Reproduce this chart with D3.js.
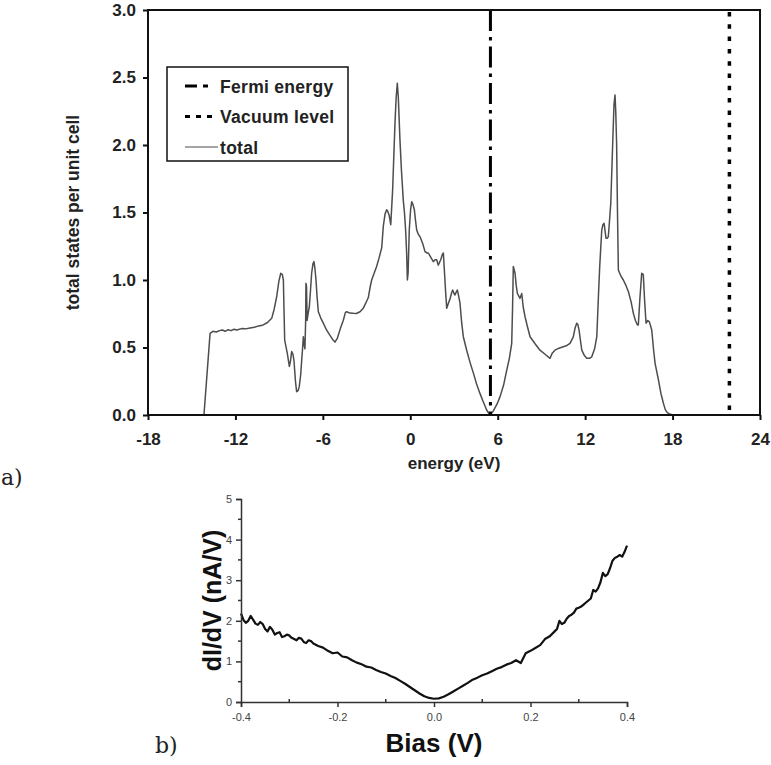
<!DOCTYPE html>
<html>
<head>
<meta charset="utf-8">
<script src="https://cdn.jsdelivr.net/npm/d3@7"></script>
<style>
  body { margin: 0; background: #fff; }
  svg { display: block; }
</style>
</head>
<body>
<div class="chart"></div>
<script>
// a) density of states
var energy = [-14.16,-13.74,-13.55,-13.3,-13.1,-12.9,-12.7,-12.5,-12.3,-12.1,-11.9,-11.6,-11.3,-11.0,-10.7,-10.4,-10.09,-9.8,-9.51,-9.35,-9.17,-9.02,-8.89,-8.78,-8.71,-8.66,-8.62,-8.44,-8.30,-8.22,-8.14,-8.05,-7.98,-7.88,-7.80,-7.70,-7.62,-7.52,-7.45,-7.40,-7.34,-7.28,-7.23,-7.18,-7.16,-7.12,-7.08,-7.0,-6.93,-6.85,-6.77,-6.68,-6.61,-6.54,-6.47,-6.40,-6.31,-6.15,-5.97,-5.75,-5.51,-5.30,-5.17,-5.0,-4.8,-4.6,-4.45,-4.36,-4.15,-3.91,-3.70,-3.45,-3.23,-3.05,-2.88,-2.75,-2.65,-2.45,-2.31,-2.15,-1.96,-1.85,-1.73,-1.62,-1.55,-1.45,-1.34,-1.21,-1.12,-1.05,-0.97,-0.89,-0.82,-0.71,-0.60,-0.48,-0.40,-0.32,-0.25,-0.20,-0.15,-0.07,0.02,0.10,0.18,0.28,0.35,0.44,0.55,0.67,0.85,1.01,1.15,1.24,1.40,1.58,1.70,1.81,1.92,2.09,2.20,2.27,2.34,2.42,2.50,2.62,2.73,2.82,2.91,3.00,3.07,3.15,3.23,3.32,3.41,3.53,3.64,3.87,4.10,4.33,4.55,4.78,5.0,5.24,5.47,5.7,5.95,6.16,6.40,6.62,6.80,6.96,7.02,7.07,7.12,7.19,7.27,7.35,7.45,7.53,7.65,7.75,7.87,8.05,8.22,8.55,8.90,9.25,9.59,9.75,9.93,10.2,10.5,10.75,10.96,11.10,11.19,11.30,11.42,11.50,11.58,11.68,11.77,11.95,12.11,12.30,12.45,12.65,12.80,12.91,13.0,13.14,13.22,13.30,13.43,13.52,13.59,13.68,13.76,13.89,13.98,14.05,14.10,14.16,14.22,14.28,14.45,14.62,14.80,14.97,15.15,15.31,15.45,15.59,15.65,15.75,15.88,15.99,16.08,16.18,16.30,16.41,16.57,16.70,16.80,17.03,17.20,17.37,17.50,17.64,17.85,18.05];
var dos = [0,0.605,0.62,0.615,0.625,0.63,0.62,0.632,0.625,0.635,0.63,0.64,0.638,0.645,0.65,0.66,0.667,0.685,0.716,0.78,0.876,0.99,1.05,1.04,1.0,0.75,0.555,0.457,0.36,0.40,0.47,0.45,0.40,0.25,0.173,0.18,0.21,0.30,0.41,0.48,0.58,0.52,0.49,0.70,0.975,0.95,0.70,0.76,0.80,0.92,1.05,1.12,1.136,1.08,1.0,0.88,0.765,0.72,0.68,0.63,0.59,0.555,0.54,0.57,0.64,0.70,0.76,0.765,0.755,0.753,0.752,0.765,0.79,0.83,0.87,0.95,1.0,1.06,1.10,1.16,1.24,1.40,1.49,1.52,1.51,1.48,1.41,1.67,1.95,2.16,2.35,2.457,2.35,2.04,1.80,1.59,1.50,1.37,1.20,1.0,1.05,1.37,1.52,1.58,1.56,1.52,1.45,1.37,1.34,1.32,1.27,1.21,1.20,1.20,1.17,1.136,1.15,1.15,1.11,1.15,1.19,1.20,1.07,0.92,0.79,0.83,0.86,0.90,0.926,0.90,0.889,0.91,0.926,0.88,0.83,0.68,0.58,0.48,0.39,0.31,0.23,0.16,0.10,0.037,0.0,0.03,0.08,0.136,0.22,0.333,0.42,0.53,0.80,1.10,1.08,1.05,0.96,0.90,0.88,0.864,0.90,0.80,0.73,0.65,0.58,0.53,0.48,0.45,0.42,0.46,0.48,0.495,0.506,0.515,0.53,0.56,0.58,0.64,0.68,0.67,0.63,0.55,0.48,0.44,0.42,0.42,0.43,0.49,0.58,0.876,1.10,1.37,1.41,1.42,1.31,1.31,1.32,1.45,1.57,2.01,2.30,2.37,2.25,2.01,1.5,1.074,1.03,1.0,0.96,0.913,0.84,0.753,0.70,0.667,0.667,0.85,1.05,1.04,0.85,0.68,0.70,0.69,0.63,0.48,0.383,0.26,0.16,0.087,0.04,0.017,0.005,0];
var fermiEnergy = 5.5;
var vacuumLevel = 21.9;
var energyTicks = [-18,-12,-6,0,6,12,18,24];
var dosTicks = [0,0.5,1.0,1.5,2.0,2.5,3.0];
var legendLabels = ["Fermi energy", "Vacuum level", "total"];

// b) tunnelling spectrum
var bias = [-0.40,-0.395,-0.39,-0.385,-0.38,-0.375,-0.37,-0.365,-0.36,-0.355,-0.35,-0.345,-0.34,-0.335,-0.33,-0.325,-0.32,-0.315,-0.31,-0.305,-0.30,-0.295,-0.29,-0.285,-0.28,-0.275,-0.27,-0.265,-0.26,-0.255,-0.25,-0.24,-0.23,-0.22,-0.21,-0.20,-0.19,-0.18,-0.17,-0.16,-0.15,-0.14,-0.13,-0.12,-0.11,-0.10,-0.09,-0.08,-0.07,-0.06,-0.05,-0.04,-0.03,-0.02,-0.01,0.00,0.01,0.02,0.03,0.04,0.05,0.06,0.07,0.08,0.09,0.10,0.11,0.12,0.13,0.14,0.15,0.16,0.17,0.18,0.19,0.20,0.21,0.22,0.23,0.24,0.25,0.255,0.26,0.265,0.27,0.275,0.28,0.285,0.29,0.295,0.30,0.305,0.31,0.315,0.32,0.325,0.33,0.335,0.34,0.345,0.35,0.355,0.36,0.365,0.37,0.375,0.38,0.385,0.39,0.395,0.40];
var didv = [2.18,2.02,1.95,2.00,2.12,2.03,1.93,1.90,1.97,1.92,1.80,1.74,1.85,1.78,1.66,1.70,1.72,1.60,1.62,1.66,1.64,1.58,1.55,1.52,1.58,1.56,1.48,1.45,1.52,1.50,1.44,1.38,1.34,1.26,1.20,1.22,1.12,1.10,1.03,0.97,0.93,0.87,0.85,0.79,0.74,0.70,0.64,0.59,0.52,0.45,0.37,0.29,0.21,0.14,0.10,0.08,0.09,0.13,0.19,0.26,0.33,0.40,0.47,0.55,0.60,0.66,0.70,0.76,0.82,0.86,0.92,0.96,1.03,0.96,1.20,1.26,1.33,1.40,1.55,1.62,1.74,1.80,2.00,1.92,1.95,2.05,2.12,2.15,2.20,2.30,2.32,2.35,2.40,2.45,2.50,2.55,2.76,2.72,2.80,2.95,3.18,3.10,3.15,3.30,3.48,3.55,3.58,3.62,3.58,3.70,3.85];
var biasTicks = [-0.4,-0.2,0,0.2,0.4];
var biasMinor = [-0.3,-0.1,0.1,0.3];
var didvTicks = [0,1,2,3,4,5];
var didvMinor = [0.5,1.5,2.5,3.5,4.5];

function init() {
    var w = 771;
    var h = 765;
    var sans = "'Liberation Sans', Arial, sans-serif";

    var svg = d3.select(".chart")
        .append("svg")
        .attr("width", w)
        .attr("height", h);

    // ---- a) ----
    var x = d3.scaleLinear().domain([-18, 24]).range([148, 760]);
    var y = d3.scaleLinear().domain([0, 3]).range([415, 10]);

    var line = d3.line()
        .x(function(d) { return x(d[0]); })
        .y(function(d) { return y(d[1]); });

    svg.append("path")
        .datum(d3.zip(energy, dos))
        .attr("fill", "none")
        .attr("stroke", "#4d4d4d")
        .attr("stroke-width", 1.5)
        .attr("stroke-linejoin", "round")
        .attr("d", line);

    svg.append("line")
        .attr("x1", x(fermiEnergy)).attr("x2", x(fermiEnergy))
        .attr("y1", y(3)).attr("y2", y(0))
        .attr("stroke", "#000")
        .attr("stroke-width", 3)
        .attr("stroke-dasharray", "21,6,3.5,6");

    svg.append("line")
        .attr("x1", x(vacuumLevel)).attr("x2", x(vacuumLevel))
        .attr("y1", y(3) + 2).attr("y2", y(0))
        .attr("stroke", "#000")
        .attr("stroke-width", 3.5)
        .attr("stroke-dasharray", "4.5,7.8");

    var xAxis = svg.append("g")
        .attr("transform", "translate(0," + y(0) + ")")
        .call(d3.axisBottom(x).tickValues(energyTicks).tickSize(5).tickPadding(13)
            .tickFormat(function(d) { return String(d); }));
    var yAxis = svg.append("g")
        .attr("transform", "translate(" + x(-18) + ",0)")
        .call(d3.axisLeft(y).tickValues(dosTicks).tickSize(5).tickPadding(7)
            .tickFormat(function(d) { return d.toFixed(1); }));

    [xAxis, yAxis].forEach(function(g) {
        g.select(".domain").remove();
        g.selectAll("line").attr("stroke", "#111").attr("stroke-width", 2);
        g.selectAll("text")
            .attr("fill", "#222")
            .style("font-family", sans)
            .style("font-weight", "bold")
            .style("font-size", "17px");
    });

    svg.append("rect")
        .attr("x", x(-18)).attr("y", y(3))
        .attr("width", x(24) - x(-18))
        .attr("height", y(0) - y(3))
        .attr("fill", "none")
        .attr("stroke", "#111")
        .attr("stroke-width", 2);

    svg.append("text")
        .attr("x", (x(-18) + x(24)) / 2)
        .attr("y", 469)
        .attr("text-anchor", "middle")
        .style("font-family", sans).style("font-weight", "bold").style("font-size", "17px")
        .attr("fill", "#222")
        .text("energy (eV)");

    svg.append("text")
        .attr("transform", "translate(79," + (y(0) + y(3)) / 2 + ") rotate(-90)")
        .attr("text-anchor", "middle")
        .style("font-family", sans).style("font-weight", "bold").style("font-size", "17.5px")
        .attr("fill", "#222")
        .text("total states per unit cell");

    // legend
    var legend = svg.append("g");
    legend.append("rect")
        .attr("x", 167).attr("y", 67)
        .attr("width", 181).attr("height", 94)
        .attr("fill", "#fff")
        .attr("stroke", "#111")
        .attr("stroke-width", 1.5);

    var dashes = ["12,6,5,20", "5,6", null];
    var widths = [3, 3, 1.2];
    var colors = ["#000", "#000", "#4d4d4d"];
    legendLabels.forEach(function(label, i) {
        var ly = 86 + i * 30.5;
        legend.append("line")
            .attr("x1", 185).attr("x2", 218)
            .attr("y1", ly).attr("y2", ly)
            .attr("stroke", colors[i])
            .attr("stroke-width", widths[i])
            .attr("stroke-dasharray", dashes[i]);
        legend.append("text")
            .attr("x", 220).attr("y", ly + 6.5)
            .style("font-family", sans).style("font-weight", "bold").style("font-size", "17.5px")
            .style("letter-spacing", "0.3px")
            .attr("fill", "#222")
            .text(label);
    });

    svg.append("text")
        .attr("x", 1).attr("y", 485)
        .style("font-family", "'DejaVu Serif', serif").style("font-size", "22px")
        .attr("fill", "#222")
        .text("a)");

    // ---- b) ----
    var bx = d3.scaleLinear().domain([-0.4, 0.4]).range([241, 627]);
    var by = d3.scaleLinear().domain([0, 5]).range([702, 499]);

    var bline = d3.line()
        .x(function(d) { return bx(d[0]); })
        .y(function(d) { return by(d[1]); });

    svg.append("path")
        .datum(d3.zip(bias, didv))
        .attr("fill", "none")
        .attr("stroke", "#111")
        .attr("stroke-width", 2.2)
        .attr("stroke-linejoin", "round")
        .attr("d", bline);

    var bxAxis = svg.append("g")
        .attr("transform", "translate(0," + by(0) + ")")
        .call(d3.axisBottom(bx).tickValues(biasTicks).tickSize(5).tickPadding(6)
            .tickFormat(function(d) { return d.toFixed(1); }));
    var byAxis = svg.append("g")
        .attr("transform", "translate(" + bx(-0.4) + ",0)")
        .call(d3.axisLeft(by).tickValues(didvTicks).tickSize(5).tickPadding(4)
            .tickFormat(function(d) { return String(d); }));

    [bxAxis, byAxis].forEach(function(g) {
        g.select(".domain").attr("stroke", "#333").attr("stroke-width", 1.5);
        g.selectAll("line").attr("stroke", "#333").attr("stroke-width", 1.5);
        g.selectAll("text")
            .attr("fill", "#444")
            .style("font-family", sans)
            .style("font-size", "11px");
    });

    bxAxis.selectAll(".minor")
        .data(biasMinor)
        .enter().append("line")
        .attr("x1", function(d) { return bx(d); })
        .attr("x2", function(d) { return bx(d); })
        .attr("y1", 0).attr("y2", -3)
        .attr("stroke", "#333").attr("stroke-width", 1.5);
    byAxis.selectAll(".minor")
        .data(didvMinor)
        .enter().append("line")
        .attr("y1", function(d) { return by(d); })
        .attr("y2", function(d) { return by(d); })
        .attr("x1", 0).attr("x2", -3)
        .attr("stroke", "#333").attr("stroke-width", 1.5);

    svg.append("text")
        .attr("x", (bx(-0.4) + bx(0.4)) / 2)
        .attr("y", 752)
        .attr("text-anchor", "middle")
        .style("font-family", sans).style("font-weight", "bold").style("font-size", "26px")
        .attr("fill", "#111")
        .text("Bias (V)");

    svg.append("text")
        .attr("transform", "translate(221," + (by(0) + by(5)) / 2 + ") rotate(-90)")
        .attr("text-anchor", "middle")
        .style("font-family", sans).style("font-weight", "bold").style("font-size", "25px")
        .attr("fill", "#111")
        .text("dI/dV (nA/V)");

    svg.append("text")
        .attr("x", 155).attr("y", 753)
        .style("font-family", "'DejaVu Serif', serif").style("font-size", "22px")
        .attr("fill", "#222")
        .text("b)");
}

init()
</script>
</body>
</html>
